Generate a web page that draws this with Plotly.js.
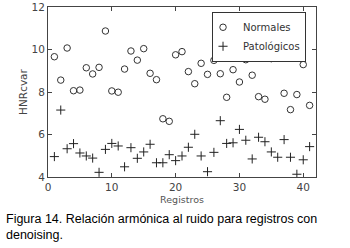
<!DOCTYPE html>
<html>
<head>
<meta charset="utf-8">
<script src="https://cdn.plot.ly/plotly-3.0.1.min.js"></script>
<style>html,body{margin:0;padding:0;background:#fff;}#chart{width:350px;height:248px;}</style>
</head>
<body>
<div id="chart"></div>
<script>
const normalesX = [1,2,3,4,5,6,7,8,9,10,11,12,13,14,15,16,17,18,19,20,21,22,23,24,25,26,27,28,29,30,31,32,33,34,35,37,38,39,40,41];
const normalesY = [9.66,8.56,10.07,8.06,8.09,9.14,8.85,9.16,10.87,8.05,7.99,9.08,9.93,9.50,10.04,8.88,8.58,6.74,6.62,9.75,9.90,8.96,8.39,9.35,8.83,9.49,8.86,7.75,9.05,8.47,9.52,8.79,7.78,7.66,9.57,7.94,7.17,7.88,9.29,7.37];
const patologicosX = [1,2,3,4,5,6,7,8,9,10,11,12,13,14,15,16,17,18,19,20,21,22,23,24,25,26,27,28,29,30,31,32,33,34,35,36,37,38,39,40,41];
const patologicosY = [4.96,7.15,5.33,5.57,5.13,4.99,4.89,4.22,5.30,5.58,5.46,4.48,5.38,4.88,5.18,5.54,4.67,4.67,5.05,4.77,4.99,5.40,6.01,4.99,4.25,5.16,6.65,5.58,5.61,6.24,5.73,4.85,5.87,5.66,5.18,4.93,5.76,4.93,4.13,4.81,5.43];
const xTicks = [0,10,20,30,40];
const yTicks = [4,6,8,10,12];
const seriesNames = ['Normales','Patológicos'];
const caption = 'Figura 14. Relación armónica al ruido para registros con<br>denoising.';

const tickFont = {family: 'DejaVu Sans, sans-serif', size: 10.5, color: '#444'};
const traces = [
  {x: normalesX, y: normalesY, name: seriesNames[0], type: 'scatter', mode: 'markers',
   marker: {symbol: 'circle-open', size: 6.5, color: '#333', line: {width: 1, color: '#333'}}},
  {x: patologicosX, y: patologicosY, name: seriesNames[1], type: 'scatter', mode: 'markers',
   marker: {symbol: 'cross-thin-open', size: 6.5, color: '#222', line: {width: 1, color: '#222'}}}
];
const axisCommon = {showgrid: false, zeroline: false, showline: true, linecolor: '#444', linewidth: 1,
  mirror: 'ticks', ticks: 'inside', ticklen: 4, tickcolor: '#444', tickfont: tickFont};
const layout = {
  width: 350, height: 248,
  margin: {l: 48, r: 34, t: 7, b: 71},
  paper_bgcolor: '#fff', plot_bgcolor: '#fff',
  showlegend: true,
  legend: {x: 0.612, y: 0.972, xanchor: 'left', yanchor: 'top', bgcolor: '#fff',
    bordercolor: '#333', borderwidth: 1, font: {family: 'DejaVu Sans, sans-serif', size: 10, color: '#333'},
    indentation: -10, tracegroupgap: 0, itemwidth: 30},
  xaxis: Object.assign({}, axisCommon, {range: [0, 42], tickvals: xTicks, ticktext: xTicks.map(String),
    title: {text: 'Registros', font: {family: 'DejaVu Sans, sans-serif', size: 9.5, color: '#555'}, standoff: 4}}),
  yaxis: Object.assign({}, axisCommon, {range: [4, 12], tickvals: yTicks, ticktext: yTicks.map(String),
    title: {text: 'HNRcvar', font: {family: 'DejaVu Sans, sans-serif', size: 10.5, color: '#444'}, standoff: 1}}),
  annotations: [{xref: 'paper', yref: 'paper', x: -44/268, y: -33/170, xanchor: 'left', yanchor: 'top',
    align: 'left', showarrow: false, text: caption,
    font: {family: 'Liberation Sans, Arial, sans-serif', size: 12.5, color: '#000'}}]
};
Plotly.newPlot('chart', traces, layout, {staticPlot: true, displayModeBar: false});
</script>
</body>
</html>
